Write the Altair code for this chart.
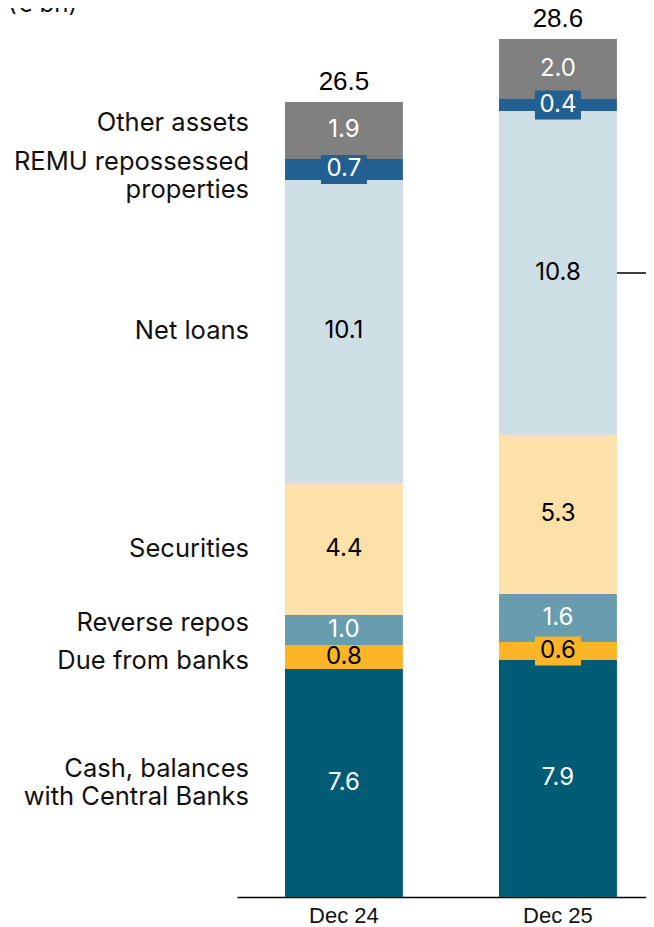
import altair as alt
import pandas as pd

periods = ["Dec 24", "Dec 25"]
categories = ["Cash, balances with Central Banks", "Due from banks", "Reverse repos",
              "Securities", "Net loans", "REMU repossessed properties", "Other assets"]
left_labels = ["Cash, balances\nwith Central Banks", "Due from banks", "Reverse repos",
               "Securities", "Net loans", "REMU repossessed\nproperties", "Other assets"]
dec24 = [7.6, 0.8, 1.0, 4.4, 10.1, 0.7, 1.9]
dec25 = [7.9, 0.6, 1.6, 5.3, 10.8, 0.4, 2.0]
totals = [26.5, 28.6]
colors = ["#005B75", "#FDB528", "#689DAF", "#FEE0A9", "#CDDEE5", "#236092", "#808080"]
text_colors = ["#ffffff", "#000000", "#ffffff", "#000000", "#000000", "#ffffff", "#ffffff"]
# anchor (first line) of each left-hand label, in € bn
label_pos = [4.27, 7.87, 9.13, 11.6, 18.85, 24.5, 25.8]

LABEL_FONT = "Inter"
AXIS_FONT = "Liberation Sans"

rows = []
for p, vals in zip(periods, [dec24, dec25]):
    cum = 0.0
    for c, v, col, tc in zip(categories, vals, colors, text_colors):
        rows.append(dict(period=p, category=c, value=v, y0=cum, y1=cum + v,
                         mid=cum + v / 2, color=col, tcolor=tc,
                         label=f"{v:.1f}", boxed=v < 0.75))
        cum += v
seg = pd.DataFrame(rows)
tot = pd.DataFrame(dict(period=periods, total=totals, label=[f"{t:.1f}" for t in totals]))
lab = pd.DataFrame(dict(text=left_labels, y=label_pos))
callout = seg[(seg.period == "Dec 25") & (seg.category == "Net loans")][["period", "mid"]]
unit = pd.DataFrame(dict(text=["(€ bn)"]))

yscale = alt.Scale(domain=[0, 29.63])
xenc = alt.X("period:N", sort=periods,
             scale=alt.Scale(domain=periods, paddingInner=0.449, paddingOuter=0.18, align=0.6226),
             axis=alt.Axis(title=None, labelAngle=0, ticks=False, domainColor="#000000",
                           domainWidth=1.5, labelFont=AXIS_FONT, labelFontSize=22,
                           labelColor="#111111", labelPadding=8, grid=False))
xsimple = alt.X("period:N", sort=periods)

bars = alt.Chart(seg).mark_bar().encode(
    x=xenc,
    y=alt.Y("y0:Q", scale=yscale, axis=None),
    y2="y1:Q",
    color=alt.Color("color:N", scale=None),
)

box_path = "M-1,-0.63L1,-0.63L1,0.63L-1,0.63Z"
boxes = alt.Chart(seg).transform_filter("datum.boxed").mark_point(
    shape=box_path, filled=True, size=46 * 46, opacity=1, strokeWidth=0
).encode(
    x=xsimple,
    y=alt.Y("mid:Q", scale=yscale, axis=None),
    color=alt.Color("color:N", scale=None),
)

values = alt.Chart(seg).mark_text(font=LABEL_FONT, fontSize=24, baseline="middle").encode(
    x=xsimple,
    y=alt.Y("mid:Q", scale=yscale, axis=None),
    text="label:N",
    color=alt.Color("tcolor:N", scale=None),
)

totals_text = alt.Chart(tot).mark_text(font=AXIS_FONT, fontSize=26, baseline="alphabetic",
                                       dy=-12, color="#000000").encode(
    x=xsimple,
    y=alt.Y("total:Q", scale=yscale, axis=None),
    text="label:N",
)

left = alt.Chart(lab).mark_text(font=LABEL_FONT, fontSize=25.5, align="right", baseline="middle",
                                lineBreak="\n", lineHeight=28, color="#111111").encode(
    x=alt.value(12),
    y=alt.Y("y:Q", scale=yscale, axis=None),
    text="text:N",
)

rule = alt.Chart(callout).mark_rule(color="#000000", strokeWidth=1.5).encode(
    x=alt.X("period:N", sort=periods, bandPosition=1),
    x2=alt.value(420),
    y=alt.Y("mid:Q", scale=yscale, axis=None),
)

unit_text = alt.Chart(unit).mark_text(font=LABEL_FONT, fontSize=24, align="left",
                                      baseline="alphabetic", color="#111111").encode(
    x=alt.value(-229),
    y=alt.value(4),
    text="text:N",
)

chart = alt.layer(bars, boxes, values, totals_text, left, rule, unit_text).properties(
    width=409, height=889,
    background="#ffffff",
    autosize=alt.AutoSizeParams(type="none"),
    padding={"left": 229, "top": 0, "right": 0, "bottom": 30},
).configure_view(strokeWidth=0, stroke="transparent")

chart.save("out.html", embed_options={"renderer": "svg", "actions": False})
